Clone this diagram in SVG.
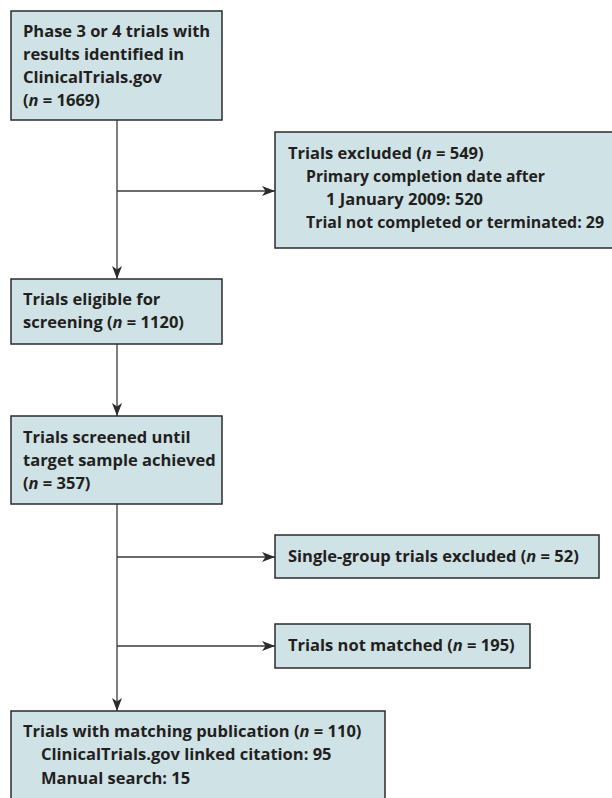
<svg xmlns="http://www.w3.org/2000/svg" width="612" height="798" viewBox="0 0 612 798">
<style>
.box{fill:#cfe2e6;stroke:#2b2b2b;stroke-width:1.5}
.t{font-family:"Open Sans","Liberation Sans",sans-serif;font-weight:700;font-size:16.5px;fill:#231f20}
.c{fill:none;stroke:#3a3a3a;stroke-width:1.3}
</style>
<defs>
<marker id="ah" markerUnits="userSpaceOnUse" markerWidth="14" markerHeight="12" refX="13" refY="5" orient="auto">
<path d="M0,0 L13,5 L0,10 L3.5,5 Z" fill="#2b2b2b"/>
</marker>
</defs>
<rect width="612" height="798" fill="#fff"/>
<g id="connectors">
<line class="c" x1="117" y1="120" x2="117" y2="279" marker-end="url(#ah)"/>
<line class="c" x1="117" y1="191" x2="275" y2="191" marker-end="url(#ah)"/>
<line class="c" x1="117" y1="344" x2="117" y2="416" marker-end="url(#ah)"/>
<line class="c" x1="117" y1="504" x2="117" y2="711" marker-end="url(#ah)"/>
<line class="c" x1="117" y1="557" x2="275" y2="557" marker-end="url(#ah)"/>
<line class="c" x1="117" y1="646" x2="275" y2="646" marker-end="url(#ah)"/>
</g>
<g id="identified">
<rect class="box" x="11" y="11" width="211" height="109"/>
<text class="t" x="23" y="37">Phase 3 or 4 trials with</text>
<text class="t" x="23" y="60">results identified in</text>
<text class="t" x="23" y="83">ClinicalTrials.gov</text>
<text class="t" x="23" y="106">(<tspan font-style="italic">n</tspan> = 1669)</text>
</g>
<g id="excluded">
<rect class="box" x="275" y="132" width="340" height="116"/>
<text class="t" x="288" y="159">Trials excluded (<tspan font-style="italic">n</tspan> = 549)</text>
<text class="t" x="306" y="182" textLength="239" lengthAdjust="spacingAndGlyphs">Primary completion date after</text>
<text class="t" x="326" y="205">1 January 2009: 520</text>
<text class="t" x="306" y="228" style="font-size:16px" textLength="298" lengthAdjust="spacingAndGlyphs">Trial not completed or terminated: 29</text>
</g>
<g id="eligible">
<rect class="box" x="11" y="279" width="211" height="65"/>
<text class="t" x="23" y="305">Trials eligible for</text>
<text class="t" x="23" y="328">screening (<tspan font-style="italic">n</tspan> = 1120)</text>
</g>
<g id="screened">
<rect class="box" x="11" y="416" width="211" height="88"/>
<text class="t" x="23" y="443">Trials screened until</text>
<text class="t" x="23" y="466">target sample achieved</text>
<text class="t" x="23" y="489">(<tspan font-style="italic">n</tspan> = 357)</text>
</g>
<g id="singlegroup">
<rect class="box" x="275" y="535" width="324" height="43"/>
<text class="t" x="288" y="562">Single-group trials excluded (<tspan font-style="italic">n</tspan> = 52)</text>
</g>
<g id="notmatched">
<rect class="box" x="275" y="624" width="255" height="44"/>
<text class="t" x="288" y="651">Trials not matched (<tspan font-style="italic">n</tspan> = 195)</text>
</g>
<g id="matched">
<rect class="box" x="11" y="711" width="374" height="95"/>
<text class="t" x="23" y="737">Trials with matching publication (<tspan font-style="italic">n</tspan> = 110)</text>
<text class="t" x="41" y="760">ClinicalTrials.gov linked citation: 95</text>
<text class="t" x="41" y="784">Manual search: 15</text>
</g>
</svg>
